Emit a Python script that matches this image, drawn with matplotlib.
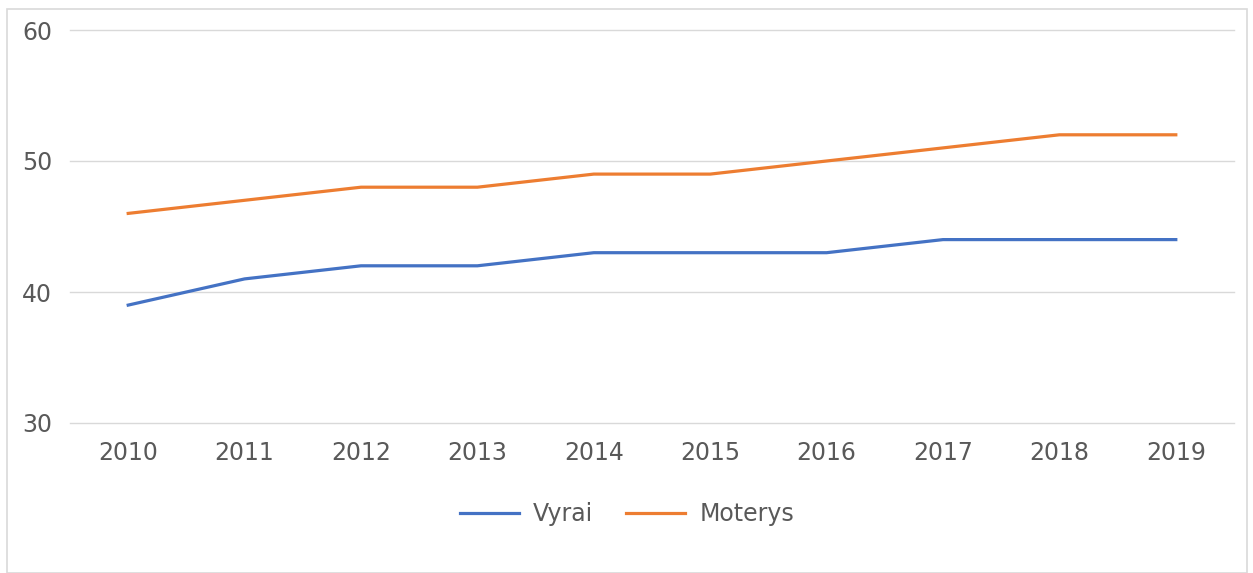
import matplotlib.pyplot as plt
from matplotlib.patches import Rectangle

years = ["2010", "2011", "2012", "2013", "2014", "2015", "2016", "2017", "2018", "2019"]
vyrai = [39, 41, 42, 42, 43, 43, 43, 44, 44, 44]
moterys = [46, 47, 48, 48, 49, 49, 50, 51, 52, 52]

plt.rcParams['font.family'] = ['DejaVu Sans']
text_color = "#595959"

fig = plt.figure(figsize=(12.53, 5.73), dpi=100)
W, H = 1253, 573
ax = fig.add_axes([70 / W, 1 - 423 / H, (1234 - 70) / W, (423 - 30) / H])

x = range(len(years))
ax.plot(x, vyrai, color="#4472C4", lw=2.3, label="Vyrai")
ax.plot(x, moterys, color="#ED7D31", lw=2.3, label="Moterys")

ax.set_xlim(-0.5, len(years) - 0.5)
ax.set_ylim(30, 60)
ax.set_yticks([30, 40, 50, 60])
ax.set_xticks(list(x))
ax.set_xticklabels(years)
ax.grid(axis="y", color="#D9D9D9", lw=1)
for gl in ax.get_ygridlines():
    gl.set_clip_on(False)
ax.set_axisbelow(True)
for s in ax.spines.values():
    s.set_visible(False)
ax.tick_params(length=0, labelsize=17, colors=text_color)
ax.tick_params(axis="x", pad=13)
ax.tick_params(axis="y", pad=13)

leg = fig.legend(loc="center", bbox_to_anchor=(627 / W, 1 - 514 / H), ncol=2,
                 frameon=False, fontsize=17, handlelength=2.5, columnspacing=1.4,
                 handletextpad=0.6)
for t in leg.get_texts():
    t.set_color(text_color)

fig.patches.append(Rectangle((7 / W, 0), (1247 - 7) / W, 1 - 9 / H, transform=fig.transFigure,
                             fill=False, edgecolor="#D9D9D9", lw=1.2))

fig.savefig("out.png", dpi=100)
